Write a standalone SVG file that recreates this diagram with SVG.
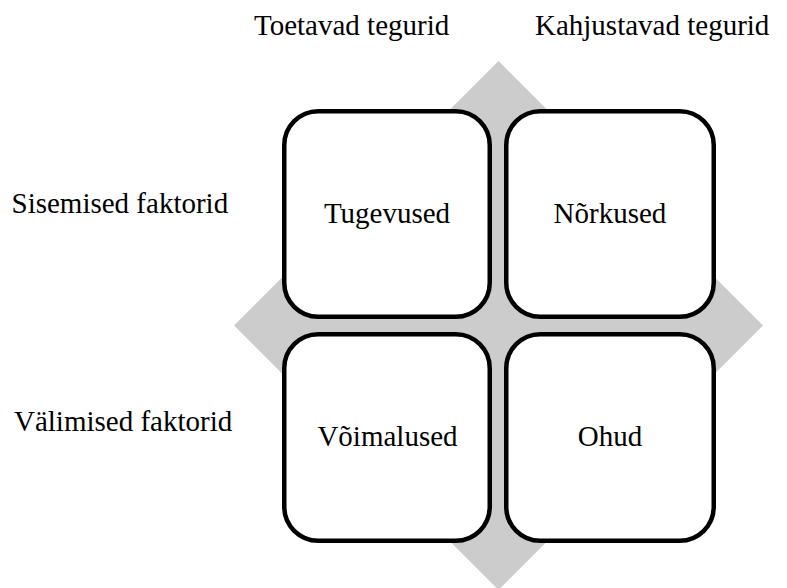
<svg xmlns="http://www.w3.org/2000/svg" width="787" height="588" viewBox="0 0 787 588">
<style>
.t{font-family:'Liberation Serif','Times New Roman',Tinos,'DejaVu Serif',serif;font-size:29px;fill:#000}
.box{fill:#fff;stroke:#000;stroke-width:4.5}
</style>
<rect width="787" height="588" fill="#fff"/>
<polygon id="diamond" points="498.5,61 763,325.5 498.5,590 234,325.5" fill="#cccccc"/>
<g id="labels" font-family="Liberation Serif, serif">
<text class="t" x="254" y="35">Toetavad tegurid</text>
<text class="t" x="535" y="35">Kahjustavad tegurid</text>
<text class="t" x="11.5" y="212.7">Sisemised faktorid</text>
<text class="t" x="14" y="431">Välimised faktorid</text>
</g>
<g id="tugevused">
<rect class="box" x="284.25" y="111.25" width="205.5" height="205.5" rx="34"/>
<text class="t" x="387" y="223.3" text-anchor="middle">Tugevused</text>
</g>
<g id="norkused">
<rect class="box" x="506.25" y="111.25" width="207.5" height="205.5" rx="34"/>
<text class="t" x="610" y="223.3" text-anchor="middle">Nõrkused</text>
</g>
<g id="voimalused">
<rect class="box" x="284.25" y="334.25" width="205.5" height="206.5" rx="34"/>
<text class="t" x="387.5" y="446" text-anchor="middle">Võimalused</text>
</g>
<g id="ohud">
<rect class="box" x="506.25" y="334.25" width="207.5" height="206.5" rx="34"/>
<text class="t" x="610" y="446" text-anchor="middle">Ohud</text>
</g>
<g id="connectors"/>
</svg>
